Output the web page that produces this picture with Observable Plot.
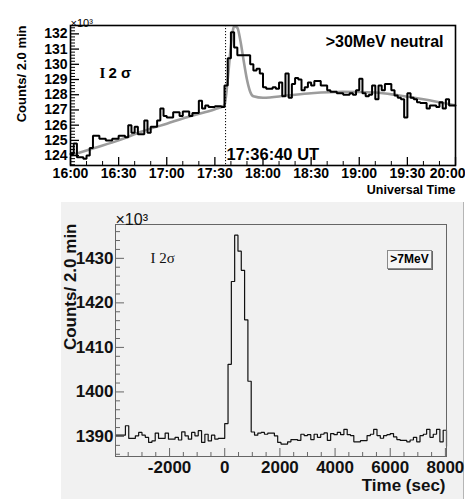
<!DOCTYPE html>
<html><head><meta charset="utf-8">
<script src="https://cdn.jsdelivr.net/npm/d3@7"></script>
<script src="https://cdn.jsdelivr.net/npm/@observablehq/plot@0.6"></script>
<style>
body{margin:0;background:#fff;}
#wrap{position:relative;width:465px;height:499px;overflow:hidden;font-family:"Liberation Sans",Arial,sans-serif;}
#top{position:absolute;left:0;top:0;}
#bot{position:absolute;left:61px;top:202px;width:402px;height:297px;background:#f1f1f1;border-right:1px solid #b5b5b5;}
#legend{position:absolute;left:326px;top:48px;width:43px;height:17px;border:1px solid #8a8a8a;box-shadow:1px 1px 0 #666;background:#f6f6f6;font:bold 12px "Liberation Sans",Arial,sans-serif;text-align:center;line-height:17px;z-index:2;}
</style></head><body>
<div id="wrap"><div id="top"></div><div id="bot"><div id="legend">&gt;7MeV</div></div></div>
<script>
// ---------- Top panel data (x10^3 counts per 2-min bin, starting 16:00) ----------
const topStartMin = 960;   // 16:00 in minutes of day
const topBinMin = 2;
const topCounts = [
 124.1,124.8,123.9,123.9,123.8,124.0,124.5,125.3,125.3,125.1,
 125.1,125.0,125.0,125.1,125.1,125.3,125.3,125.2,126.0,125.5,
 125.9,125.4,125.4,126.3,125.5,125.9,125.9,126.3,127.1,126.6,
 126.5,126.5,126.85,126.85,126.6,126.9,126.9,126.6,126.8,126.8,
 127.6,127.1,127.3,127.2,127.2,127.25,127.25,127.2,128.6,130.4,
 132.1,131.1,130.6,130.6,130.6,130.6,130.0,129.6,129.7,129.4,
 128.5,128.4,128.4,128.5,128.4,128.8,127.9,129.4,127.8,128.7,
 129.1,129.0,128.3,128.5,128.8,128.6,128.9,128.9,128.6,128.6,
 128.3,128.2,128.2,128.1,128.1,128.0,128.0,128.1,128.0,128.3,
 129.05,128.1,127.9,128.0,128.6,127.7,128.6,128.3,128.7,128.7,
 128.3,127.95,127.8,127.7,126.5,128.1,127.8,127.7,127.5,127.45,
 127.45,127.1,127.3,127.3,127.2,127.5,127.1,127.7,127.3,127.3
];
// smooth grey model curve: [minute of day, x10^3 counts]
const modelMinutes = [960,975,990,1005,1020,1035,1050,1056,1058,1060,1062,1064,1066,1068,1070,1072,1074,1080,1095,1110,1130,1150,1165,1180,1200];
const modelValues  = [124.0,124.5,125.0,125.6,126.1,126.6,127.05,127.3,129.0,131.2,132.5,132.4,131.5,130.2,129.0,128.2,127.9,127.8,127.95,128.1,128.2,128.15,127.95,127.7,127.3];
const onsetMin = 1056 + 40/60; // 17:36:40 UT
const topXTicks = [960,990,1020,1050,1080,1110,1140,1170,1200];
const topXTickLabels = ["16:00","16:30","17:00","17:30","18:00","18:30","19:00","19:30","20:00"];
const topYTicks = [124,125,126,127,128,129,130,131,132];
const topYTickLabels = ["124","125","126","127","128","129","130","131","132"];

// ---------- Bottom panel data (x10^3 counts per 120-s bin, starting -3960 s) ----------
const botStartSec = -3960;
const botBinSec = 120;
const botCounts = [
 1390.3,1390.3,1390.3,1392.4,1389.55,1389.55,1390.15,1390.9,1390.3,1389.8,
 1388.65,1389.0,1390.75,1389.55,1389.55,1390.75,1389.4,1389.4,1389.8,1389.2,
 1391.05,1390.15,1389.4,1390.9,1390.15,1391.3,1388.65,1390.5,1389.0,1390.3,
 1389.4,1389.55,1389.55,1392.9,1406.2,1424.8,1435.2,1431.6,1427.3,1416.2,
 1402.4,1391.0,1390.3,1390.75,1390.9,1390.5,1390.75,1390.75,1390.15,1388.65,
 1388.3,1388.3,1388.8,1389.3,1389.3,1389.1,1390.5,1390.2,1390.4,1389.3,
 1390.5,1389.8,1390.5,1390.8,1389.1,1390.65,1390.4,1390.9,1390.4,1391.6,
 1390.4,1390.2,1388.8,1388.8,1389.05,1389.05,1390.2,1390.5,1391.6,1390.2,
 1389.6,1390.2,1390.4,1390.65,1389.9,1389.3,1389.1,1389.1,1388.8,1389.2,
 1389.8,1388.8,1390.2,1390.5,1391.6,1389.8,1390.5,1391.6,1388.8,1391.4
];
const botEndValue = 1387.8;
const botXTicks = [-2000,0,2000,4000,6000,8000];
const botXTickLabels = ["-2000","0","2000","4000","6000","8000"];
const botYTicks = [1390,1400,1410,1420,1430];
const botYTickLabels = ["1390","1400","1410","1420","1430"];

const SANS = '"Liberation Sans", Arial, Helvetica, sans-serif';

// ---------- TOP ----------
{
  const W = 465, H = 200, mL = 70, mR = 10, mT = 25, mB = 35;
  const fW = W - mL - mR, fH = H - mT - mB;
  const hist = topCounts.map((v, i) => ({t: topStartMin + topBinMin * i, v}));
  hist.push({t: topStartMin + topBinMin * topCounts.length, v: topCounts[topCounts.length - 1]});
  const model = modelMinutes.map((t, i) => ({t, v: modelValues[i]}));
  const yMinor = d3.range(617, 663).map(k => k / 5).filter(v => Math.abs(v - Math.round(v)) > 1e-6);
  const xMinor = d3.range(960, 1201, 10).filter(v => (v - 960) % 30 !== 0);
  const nx = topXTicks.length;
  const p = Plot.plot({
    width: W, height: H, marginLeft: mL, marginRight: mR, marginTop: mT, marginBottom: mB,
    style: {background: "transparent", fontFamily: SANS, overflow: "visible"},
    x: {domain: [960, 1200], axis: null},
    y: {domain: [123.35, 132.55], axis: null},
    marks: [
      Plot.line(model, {x: "t", y: "v", stroke: "#9c9c9c", strokeWidth: 2.6, curve: "monotone-x", clip: true}),
      Plot.line(hist, {x: "t", y: "v", curve: "step-after", stroke: "#000", strokeWidth: 2, strokeLinejoin: "miter"}),
      Plot.ruleX([onsetMin], {stroke: "#000", strokeWidth: 1, strokeDasharray: "1.2,1.8"}),
      Plot.tickY(topYTicks, {y: d => d, insetRight: fW - 9, stroke: "#000", strokeWidth: 1.3}),
      Plot.tickY(yMinor, {y: d => d, insetRight: fW - 5, stroke: "#000", strokeWidth: 1}),
      Plot.tickX(topXTicks, {x: d => d, insetTop: fH - 8, stroke: "#000", strokeWidth: 1.3}),
      Plot.tickX(xMinor, {x: d => d, insetTop: fH - 4, stroke: "#000", strokeWidth: 1}),
      Plot.frame({stroke: "#000", strokeWidth: 1.6}),
      Plot.text(topYTicks, {y: d => d, text: (d, i) => topYTickLabels[i], frameAnchor: "left", textAnchor: "end", dx: -3, fontSize: 14, fontWeight: "bold", fill: "#000"}),
      Plot.text(topXTicks.slice(0, nx - 1), {x: d => d, text: (d, i) => topXTickLabels[i], frameAnchor: "bottom", lineAnchor: "top", dy: 3, fontSize: 14, fontWeight: "bold", fill: "#000"}),
      Plot.text(topXTicks.slice(nx - 1), {x: d => d, text: () => topXTickLabels[nx - 1], frameAnchor: "bottom", lineAnchor: "top", textAnchor: "end", dx: 10, dy: 3, fontSize: 14, fontWeight: "bold", fill: "#000"}),
      Plot.text(["×10³"], {frameAnchor: "top-left", textAnchor: "start", lineAnchor: "bottom", dy: 1, fontSize: 11, fill: "#000"}),
      Plot.text(["Counts/ 2.0 min"], {frameAnchor: "top-left", rotate: -90, textAnchor: "end", lineAnchor: "bottom", dx: -45, fontSize: 13, fontWeight: "bold", fill: "#000"}),
      Plot.text(["I"], {frameAnchor: "top-left", textAnchor: "start", lineAnchor: "bottom", dx: 29, dy: 52, fontSize: 15, fontWeight: "bold", fontFamily: '"Liberation Serif", serif', fill: "#000"}),
      Plot.text(["2 σ"], {frameAnchor: "top-left", textAnchor: "start", lineAnchor: "bottom", dx: 38, dy: 52, fontSize: 15, fontWeight: "bold", fill: "#000"}),
      Plot.text([">30MeV neutral"], {frameAnchor: "top-right", textAnchor: "end", lineAnchor: "bottom", dx: -12, dy: 21, fontSize: 16, fontWeight: "bold", fill: "#000"}),
      Plot.text(["17:36:40 UT"], {frameAnchor: "bottom-left", textAnchor: "start", lineAnchor: "bottom", dx: 156, dy: -6, fontSize: 16.5, fontWeight: "bold", fill: "#000"}),
      Plot.text(["Universal Time"], {frameAnchor: "bottom-right", textAnchor: "end", lineAnchor: "bottom", dy: 28, fontSize: 12.5, fontWeight: "bold", fill: "#000"})
    ]
  });
  document.getElementById("top").appendChild(p);
}

// ---------- BOTTOM ----------
{
  const W = 402, H = 297, mL = 54, mR = 17, mT = 22, mB = 43;
  const fW = W - mL - mR, fH = H - mT - mB;
  const hist = botCounts.map((v, i) => ({t: botStartSec + botBinSec * i, v}));
  const endT = botStartSec + botBinSec * botCounts.length;
  hist.push({t: endT, v: botEndValue});
  const yMinor = d3.range(1386, 1437, 2).filter(v => v % 10 !== 0);
  const xMinor = d3.range(-3500, 8001, 500).filter(v => v % 2000 !== 0);
  const p = Plot.plot({
    width: W, height: H, marginLeft: mL, marginRight: mR, marginTop: mT, marginBottom: mB,
    style: {background: "transparent", fontFamily: SANS, overflow: "visible"},
    x: {domain: [-3960, 8040], axis: null},
    y: {domain: [1385.5, 1437.6], axis: null},
    marks: [
      Plot.line(hist, {x: "t", y: "v", curve: "step-after", stroke: "#111", strokeWidth: 1.2, strokeLinejoin: "miter"}),
      Plot.tickY(botYTicks, {y: d => d, insetRight: fW - 9, stroke: "#666", strokeWidth: 1}),
      Plot.tickY(yMinor, {y: d => d, insetRight: fW - 5, stroke: "#666", strokeWidth: 1}),
      Plot.tickX(botXTicks, {x: d => d, insetTop: fH - 8, stroke: "#666", strokeWidth: 1}),
      Plot.tickX(xMinor, {x: d => d, insetTop: fH - 4, stroke: "#666", strokeWidth: 1}),
      Plot.frame({stroke: "#666", strokeWidth: 1}),
      Plot.text(botYTicks, {y: d => d, text: (d, i) => botYTickLabels[i], frameAnchor: "left", textAnchor: "end", dx: -2, fontSize: 17, fontWeight: "bold", fill: "#111"}),
      Plot.text(botXTicks, {x: d => d, text: (d, i) => botXTickLabels[i], frameAnchor: "bottom", lineAnchor: "top", dy: 4, fontSize: 17, fontWeight: "bold", fill: "#111"}),
      Plot.text(["×10³"], {frameAnchor: "top-left", textAnchor: "start", lineAnchor: "bottom", dy: 0, fontSize: 16, fill: "#111"}),
      Plot.text(["Counts/ 2.0 min"], {frameAnchor: "top-left", rotate: -90, textAnchor: "end", lineAnchor: "bottom", dx: -40, dy: -1, fontSize: 17, fontWeight: "bold", fill: "#111"}),
      Plot.text(["I 2σ"], {frameAnchor: "top-left", textAnchor: "start", lineAnchor: "bottom", dx: 35, dy: 38, fontSize: 15, fontFamily: '"Liberation Serif", serif', fill: "#111"}),
      Plot.text(["Time (sec)"], {frameAnchor: "bottom-right", textAnchor: "end", lineAnchor: "bottom", dx: -1, dy: 34, fontSize: 17, fontWeight: "bold", fill: "#111"})
    ]
  });
  const bot = document.getElementById("bot");
  bot.insertBefore(p, bot.firstChild);
  p.style.position = "absolute"; p.style.left = "0"; p.style.top = "0";
}
</script>
</body></html>
